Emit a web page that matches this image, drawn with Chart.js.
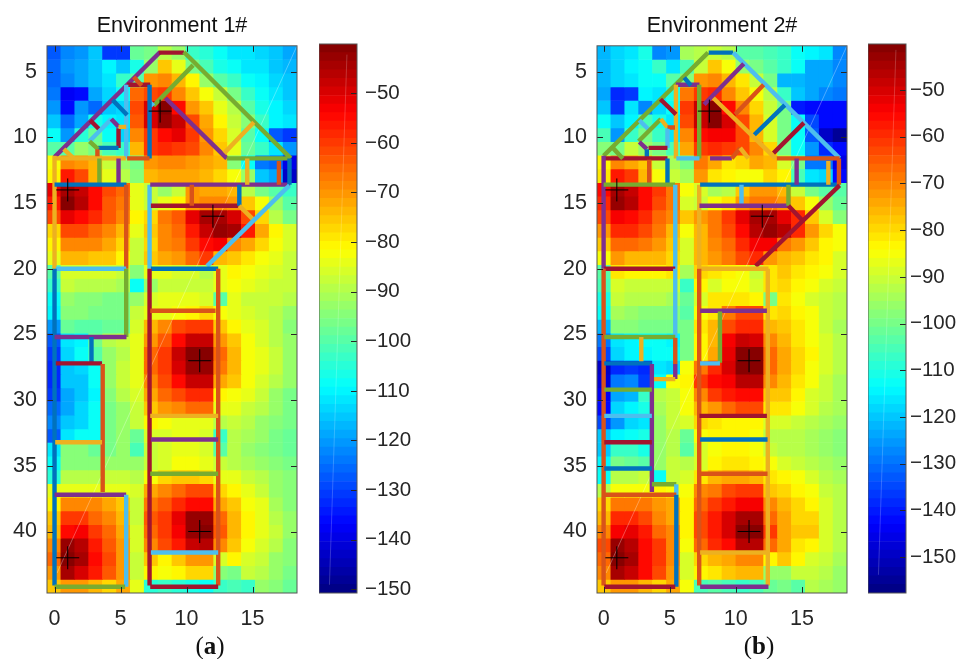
<!DOCTYPE html>
<html>
<head>
<meta charset="utf-8">
<script src="https://cdn.jsdelivr.net/npm/chart.js@4"></script>
<style>
  html, body { margin: 0; background: #fff; }
  canvas { position: absolute; top: 0; }
  .cap { position: absolute; top: 632px; font: 25px "Liberation Serif", serif; color: #111; transform: translateX(-50%); }
</style>
</head>
<body>
<canvas id="panelA" width="344" height="659" style="left:0"></canvas>
<canvas id="barA" width="101" height="659" style="left:319px"></canvas>
<canvas id="panelB" width="344" height="659" style="left:550px"></canvas>
<canvas id="barB" width="89" height="659" style="left:868px"></canvas>
<div class="cap" style="left:210px">(<b>a</b>)</div>
<div class="cap" style="left:759px">(<b>b</b>)</div>
<script>
// received power per cell, 40 rows x 18 columns
const gridA = [
  [-128,-122,-120,-115,-130,-130,-98,-97,-90,-93,-104,-105,-109,-111,-112,-114,-116,-118],
  [-126,-121,-118,-115,-110,-115,-106,-92,-76,-85,-97,-102,-106,-109,-111,-112,-115,-117],
  [-125,-122,-119,-115,-111,-104,-100,-70,-69,-73,-80,-92,-100,-104,-108,-110,-113,-116],
  [-124,-137,-136,-118,-114,-108,-65,-62,-60,-68,-75,-82,-88,-96,-104,-108,-112,-115],
  [-121,-136,-120,-125,-115,-113,-62,-50,-41,-55,-70,-76,-85,-90,-100,-106,-110,-113],
  [-115,-125,-118,-107,-110,-112,-63,-50,-42,-48,-62,-72,-80,-88,-94,-104,-110,-112],
  [-108,-120,-105,-98,-108,-113,-68,-60,-54,-52,-60,-70,-78,-86,-100,-108,-127,-130],
  [-100,-100,-92,-97,-102,-104,-74,-60,-58,-60,-62,-68,-75,-84,-98,-104,-112,-120],
  [-82,-68,-70,-74,-88,-92,-97,-70,-68,-68,-70,-72,-74,-95,-108,-124,-126,-140],
  [-80,-56,-62,-74,-85,-90,-94,-73,-72,-72,-72,-74,-78,-82,-92,-115,-118,-143],
  [-52,-44,-47,-55,-62,-66,-84,-88,-92,-88,-70,-72,-72,-74,-90,-97,-100,-103],
  [-57,-41,-46,-54,-63,-67,-84,-88,-84,-80,-70,-68,-68,-70,-76,-82,-92,-100],
  [-62,-52,-54,-58,-64,-68,-81,-78,-67,-63,-52,-44,-44,-50,-62,-78,-90,-96],
  [-78,-61,-61,-66,-69,-74,-84,-76,-69,-65,-57,-47,-42,-44,-56,-72,-80,-86],
  [-80,-68,-68,-68,-72,-78,-87,-78,-69,-67,-60,-54,-53,-68,-72,-78,-82,-86],
  [-84,-73,-74,-75,-76,-80,-87,-76,-72,-70,-65,-60,-74,-76,-79,-83,-85,-87],
  [-100,-86,-86,-86,-86,-88,-94,-84,-85,-86,-86,-90,-85,-80,-82,-84,-86,-87],
  [-104,-88,-90,-90,-90,-91,-109,-93,-88,-87,-87,-88,-85,-83,-85,-86,-87,-88],
  [-108,-93,-94,-94,-96,-96,-93,-86,-85,-84,-84,-86,-100,-85,-87,-88,-88,-90],
  [-110,-95,-95,-97,-97,-97,-88,-84,-84,-82,-80,-78,-82,-85,-86,-88,-90,-93],
  [-120,-98,-99,-99,-98,-98,-86,-74,-68,-62,-60,-60,-76,-80,-84,-86,-90,-95],
  [-128,-112,-110,-96,-90,-88,-84,-70,-64,-54,-48,-48,-70,-76,-82,-86,-89,-92],
  [-130,-113,-108,-99,-92,-90,-84,-66,-60,-48,-41,-41,-66,-74,-82,-85,-88,-92],
  [-132,-115,-114,-108,-92,-88,-84,-66,-60,-49,-42,-42,-67,-74,-82,-85,-88,-92],
  [-132,-116,-115,-109,-92,-88,-85,-68,-62,-54,-47,-47,-72,-76,-82,-86,-90,-93],
  [-130,-118,-116,-110,-94,-90,-86,-72,-66,-62,-58,-58,-80,-82,-85,-88,-92,-96],
  [-126,-118,-113,-109,-96,-92,-87,-75,-71,-68,-66,-66,-84,-84,-87,-90,-93,-97],
  [-122,-116,-113,-109,-96,-92,-88,-80,-82,-84,-84,-84,-90,-88,-90,-92,-95,-97],
  [-128,-112,-108,-108,-97,-93,-98,-86,-86,-85,-85,-86,-104,-90,-91,-93,-96,-98],
  [-112,-95,-95,-98,-97,-93,-101,-88,-86,-85,-85,-86,-100,-90,-92,-94,-96,-98],
  [-108,-95,-94,-95,-93,-92,-93,-88,-86,-82,-82,-84,-88,-89,-91,-92,-95,-97],
  [-105,-89,-90,-90,-88,-88,-90,-82,-78,-76,-76,-78,-84,-85,-88,-90,-93,-95],
  [-85,-84,-85,-84,-84,-84,-86,-72,-69,-65,-62,-62,-77,-80,-85,-88,-92,-95],
  [-80,-68,-68,-68,-72,-75,-88,-67,-63,-59,-54,-54,-72,-76,-82,-85,-91,-94],
  [-76,-60,-60,-65,-69,-74,-87,-64,-60,-52,-43,-43,-66,-74,-80,-85,-89,-93],
  [-74,-54,-53,-60,-66,-72,-86,-66,-60,-53,-42,-41,-64,-74,-81,-84,-88,-93],
  [-68,-42,-46,-56,-64,-70,-86,-68,-62,-56,-47,-46,-68,-75,-82,-86,-90,-94],
  [-66,-40,-44,-54,-62,-70,-87,-75,-80,-76,-70,-70,-86,-81,-86,-88,-92,-95],
  [-70,-44,-49,-56,-64,-70,-88,-80,-83,-80,-78,-78,-95,-97,-88,-90,-93,-96],
  [-76,-70,-70,-74,-78,-72,-85,-105,-104,-105,-107,-108,-104,-102,-103,-92,-95,-98]
];
const gridB = [
  [-122,-118,-116,-110,-128,-126,-95,-93,-90,-92,-104,-103,-105,-108,-112,-115,-117,-128],
  [-122,-118,-115,-112,-108,-116,-105,-90,-77,-86,-96,-100,-103,-108,-112,-124,-124,-128],
  [-122,-118,-116,-112,-112,-104,-98,-72,-70,-76,-82,-90,-100,-122,-122,-124,-124,-127],
  [-124,-138,-136,-114,-116,-110,-68,-62,-60,-70,-78,-86,-92,-108,-120,-124,-128,-130],
  [-120,-136,-116,-128,-118,-113,-62,-48,-41,-56,-70,-80,-90,-100,-140,-142,-143,-143],
  [-112,-120,-115,-106,-110,-116,-64,-48,-41,-50,-64,-76,-88,-100,-112,-135,-143,-143],
  [-106,-125,-108,-100,-108,-116,-70,-56,-54,-54,-64,-76,-88,-100,-113,-133,-150,-155],
  [-98,-100,-90,-96,-100,-106,-75,-62,-60,-62,-64,-70,-80,-100,-112,-125,-138,-143],
  [-84,-70,-74,-78,-90,-95,-100,-68,-74,-82,-80,-74,-76,-88,-100,-130,-130,-145],
  [-82,-58,-62,-76,-86,-90,-94,-72,-82,-84,-86,-86,-80,-84,-105,-116,-118,-143],
  [-56,-44,-48,-56,-62,-68,-86,-88,-94,-92,-78,-72,-72,-76,-90,-100,-104,-103],
  [-60,-42,-46,-56,-64,-68,-88,-90,-86,-82,-72,-68,-68,-72,-77,-86,-96,-102],
  [-64,-54,-56,-60,-66,-70,-78,-72,-68,-62,-52,-44,-44,-52,-60,-78,-88,-98],
  [-72,-60,-60,-64,-69,-76,-85,-76,-68,-64,-56,-46,-42,-46,-60,-72,-80,-86],
  [-78,-66,-66,-68,-72,-78,-88,-76,-70,-66,-60,-54,-53,-68,-72,-78,-84,-86],
  [-86,-72,-76,-76,-76,-80,-88,-76,-72,-68,-64,-60,-72,-76,-78,-82,-84,-88],
  [-104,-82,-84,-84,-84,-82,-95,-80,-82,-84,-86,-90,-82,-78,-82,-84,-86,-88],
  [-106,-88,-90,-90,-90,-90,-108,-84,-88,-86,-86,-88,-82,-80,-84,-86,-88,-90],
  [-110,-90,-92,-92,-92,-94,-102,-88,-82,-82,-82,-84,-100,-82,-86,-88,-90,-92],
  [-112,-94,-96,-98,-98,-98,-104,-86,-82,-68,-64,-64,-82,-80,-84,-86,-90,-92],
  [-122,-98,-98,-100,-100,-100,-100,-82,-76,-64,-60,-60,-76,-78,-82,-86,-90,-94],
  [-130,-116,-114,-112,-112,-114,-100,-84,-76,-54,-48,-50,-70,-76,-82,-86,-88,-92],
  [-134,-118,-114,-114,-113,-112,-100,-84,-74,-52,-41,-41,-66,-74,-80,-84,-88,-92],
  [-150,-138,-136,-138,-116,-118,-86,-68,-60,-50,-40,-40,-66,-74,-80,-86,-88,-92],
  [-148,-130,-128,-136,-112,-86,-84,-62,-56,-54,-46,-46,-70,-76,-82,-86,-90,-94],
  [-144,-124,-122,-108,-92,-90,-86,-70,-62,-58,-56,-56,-78,-78,-84,-88,-90,-94],
  [-142,-118,-114,-110,-94,-90,-86,-76,-72,-66,-64,-64,-82,-82,-86,-88,-92,-95],
  [-134,-126,-118,-116,-96,-90,-88,-80,-82,-84,-84,-84,-88,-88,-90,-92,-94,-96],
  [-120,-114,-112,-110,-96,-92,-102,-86,-84,-84,-84,-86,-92,-92,-92,-94,-96,-98],
  [-120,-108,-108,-110,-96,-92,-104,-88,-86,-84,-84,-86,-90,-92,-92,-94,-96,-98],
  [-114,-100,-102,-103,-96,-90,-92,-88,-84,-82,-82,-84,-86,-88,-90,-92,-94,-96],
  [-112,-92,-92,-90,-112,-90,-88,-82,-76,-74,-74,-76,-82,-84,-86,-88,-92,-94],
  [-92,-86,-86,-86,-84,-86,-86,-70,-68,-64,-62,-62,-78,-80,-84,-86,-90,-93],
  [-80,-68,-68,-68,-72,-74,-84,-66,-62,-58,-54,-54,-70,-76,-80,-84,-88,-92],
  [-76,-60,-60,-64,-70,-74,-84,-64,-58,-50,-44,-44,-66,-74,-80,-80,-88,-92],
  [-70,-54,-52,-58,-66,-70,-84,-64,-58,-50,-41,-41,-62,-74,-78,-78,-88,-92],
  [-64,-42,-46,-56,-62,-70,-86,-66,-60,-56,-46,-46,-66,-74,-82,-84,-88,-92],
  [-66,-40,-44,-56,-62,-70,-88,-80,-76,-74,-70,-70,-84,-78,-84,-88,-90,-94],
  [-70,-44,-48,-56,-64,-72,-88,-84,-82,-78,-76,-76,-96,-97,-90,-90,-92,-96],
  [-78,-72,-72,-76,-80,-74,-86,-106,-104,-106,-108,-106,-102,-100,-104,-92,-94,-96]
];

const cellColumns = ['c0','c1','c2','c3','c4','c5','c6','c7','c8','c9','c10','c11','c12','c13','c14','c15','c16','c17'];
const xTicks = [0, 5, 10, 15];
const yTicks = [5, 10, 15, 20, 25, 30, 35, 40];
const barTicks = [-50, -60, -70, -80, -90, -100, -110, -120, -130, -140, -150];
const transmitters = [[8, 8], [1, 14], [12, 16], [11, 27], [11, 40], [1, 42]];

// walls of the floor plan: x1, y1, x2, y2
const wallsA = [
  [0,11.5,8,3.5],[7.9,3.55,9.8,3.55],[9.8,3.5,17.9,11.6],[10.5,4.5,7.5,7.6],[7.2,7.3,7.5,7.6],
  [8.4,7,13.05,11.6],[5.5,6,7.25,6],[6,5.4,6.6,6.05],[5.43,6,5.43,11.6],[7.2,6,7.2,11.6],
  [5.5,11.6,7.2,11.6],[4.4,7.15,5.5,8.3],[2.7,8.7,3.5,9.5],[2.65,10.3,4.3,8.6],[4.3,8.6,4.85,9.2],
  [4.85,9.3,4.85,10.8],[4.85,9.2,5.43,9.2],[3.3,10.8,4.85,10.8],[2.65,10.3,3.3,10.9],[3.25,10.9,3.25,11.6],
  [0,11.6,5.4,11.6],[0.7,10.9,1.45,11.6],[0,11.4,0,20],[3.4,11.6,3.4,13.6],[4.85,11.6,4.85,13.6],
  [0,13.6,5.45,13.6],[5.43,13.6,5.43,20],[7.2,13.6,7.2,20],[7.25,13.6,17.85,13.6],[13.05,11.6,17.85,11.6],
  [12.85,11.2,15.1,8.85],[14.6,11.6,14.6,13.6],[17,11.8,17,13.6],[17.8,11.6,17.8,13.6],[7.3,15.2,13.95,15.2],
  [10.4,13.6,10.4,15.2],[14,13.6,14,15.2],[14,15.2,15.1,16.3],[17.8,13.65,11.55,19.8],[0.1,20,5.43,20],
  [7.3,20,12.4,20],[7.2,20,7.2,44.1],[12.4,20,12.4,44.1],[0,20,0,44.1],[5.43,20,5.43,25.2],
  [0,25.2,5.45,25.2],[2.8,25.2,2.8,27.15],[0.1,27.2,3.6,27.2],[3.65,27.25,3.65,37],[7.25,23.2,12.2,23.2],
  [7.25,31.2,12.4,31.2],[0.05,33.2,3.6,33.2],[7.3,33,12.4,33],[7.25,35.6,12.4,35.6],[0,37.2,5.43,37.2],
  [5.43,37.2,5.43,44.2],[0,44.2,5.35,44.2],[7.3,41.6,12.4,41.6],[7.25,44.2,12.4,44.2]
];
const wallGroupsA = 'prgglprolbobrlprybgoyyygpbolpgyyobrobyllbrobgpbrooyypgplglr';

const wallsB = [
  [0,11.4,7.9,3.55],[7.95,3.55,9.8,3.55],[9.8,3.55,17.85,11.6],[10.6,4.4,7.6,7.5],[8.3,7,13,11.6],
  [9.95,8.25,12.1,6],[11.4,9.8,13.7,7.55],[12.85,11.2,15.15,8.9],[5.47,6,7.25,6],[6.1,5.45,6.6,6.05],
  [5.47,6,5.47,11.6],[7.23,6,7.23,11.6],[5.5,11.6,7.25,11.6],[4.3,7.1,5.47,8.25],[2.7,8.7,3.5,9.5],
  [2.65,10.3,4.33,8.6],[4.33,8.6,4.83,9.25],[4.83,9.25,5.4,9.25],[4.83,9.35,4.83,10.8],[3.4,10.8,4.83,10.8],
  [2.7,10.35,3.27,10.9],[3.27,10.9,3.27,11.6],[0,11.6,4.83,11.6],[0.7,10.8,1.45,11.6],[0,11.4,0,20],
  [3.45,11.7,3.45,13.6],[4.83,11.6,4.83,13.6],[0,13.6,5.4,13.6],[5.42,13.6,5.42,20],[7.23,13.6,7.23,20],
  [7.3,13.6,17.85,13.6],[8.05,11.6,9.7,11.6],[9.7,11.6,10.33,10.8],[10.33,10.8,10.95,11.6],[13.1,11.6,17.85,11.6],
  [14.6,11.6,14.6,13.6],[17,11.8,17,13.6],[17.8,11.6,17.8,13.6],[10.43,13.6,10.43,15.2],[7.25,15.2,13.98,15.2],
  [13.98,13.6,13.98,15.2],[13.98,15.2,15.06,16.35],[17.85,13.65,11.5,19.8],[0.05,20,5.42,20],[7.25,20,12.47,20],
  [0,20,0,44.1],[5.42,20,5.42,25.2],[0.05,25.2,5.42,25.2],[2.85,25.2,2.85,27.15],[5.42,25.25,5.42,27.25],
  [5.42,27.25,5.42,28.4],[3.73,28.4,5.42,28.4],[0.05,27.2,3.65,27.2],[3.65,27.25,3.65,37],[0.05,29.2,3.65,29.2],
  [0.05,31.2,3.65,31.2],[0.05,33.2,3.65,33.2],[0.05,35.2,3.65,35.2],[3.65,36.4,5.5,36.4],[5.5,36.4,5.5,37.2],
  [0.05,37.2,5.5,37.2],[5.5,37.2,5.5,44.2],[0.05,44.2,5.42,44.2],[7.23,20,7.23,44.1],[12.42,20,12.42,44.1],
  [7.3,23.2,12.35,23.2],[8.8,23.25,8.8,27.15],[7.3,27.2,8.8,27.2],[7.25,31.2,12.35,31.2],[7.3,33,12.4,33],
  [7.3,35.6,12.4,35.6],[7.3,41.6,12.4,41.6],[7.3,44.2,12.47,44.2]
];
const wallGroupsB = 'gblpyobrpbyglrlgyolrpbrgpobglybpoyopyolpgrrryolgyopybpglrbglobroypglrboyp';

const wallColors = { b: '#0072BD', o: '#D95319', y: '#EDB120', p: '#7E2F8E', g: '#77AC30', l: '#4DBEEE', r: '#A2142F' };
const FONT = '"Liberation Sans", Arial, sans-serif';
const INK = '#262626';

// jet, 64 levels, same as the matlab default of that time
function jet(i) {
    const t = (i + 0.5) / 64;
    const ch = d => Math.round(255 * Math.max(0, Math.min(1, 1.5 - Math.abs(4 * t - d))));
    return 'rgb(' + ch(3) + ',' + ch(2) + ',' + ch(1) + ')';
}
function colorOf(v, cMin, cMax) {
    const i = Math.floor((v - cMin) / (cMax - cMin) * 64);
    return jet(Math.max(0, Math.min(63, i)));
}
const minusLabel = v => String(v).replace('-', '\u2212');

// inward ticks on all four sides, plus the box
const frame = {
    id: 'frame',
    afterDatasetsDraw(chart, args, opts) {
        const { ctx, chartArea: a } = chart;
        ctx.save();
        ctx.strokeStyle = INK;
        ctx.lineWidth = 1;
        ctx.beginPath();
        if (opts.xTicks) opts.xTicks.forEach(t => {
            const p = Math.round(chart.scales.x.getPixelForValue(t)) + 0.5;
            ctx.moveTo(p, a.top); ctx.lineTo(p, a.top + 6);
            ctx.moveTo(p, a.bottom); ctx.lineTo(p, a.bottom - 6);
        });
        opts.yTicks.forEach(t => {
            const p = Math.round(chart.scales.y.getPixelForValue(t)) + 0.5;
            if (opts.xTicks) { ctx.moveTo(a.left, p); ctx.lineTo(a.left + 6, p); }
            ctx.moveTo(a.right, p); ctx.lineTo(a.right - 6, p);
        });
        ctx.stroke();
        ctx.strokeStyle = '#555';
        ctx.strokeRect(a.left, a.top, a.right - a.left, a.bottom - a.top);
        ctx.restore();
    }
};

function fixedTicks(values) {
    return scale => { scale.ticks = values.map(value => ({ value })); };
}

function drawPanel(id, title, grid, walls, groups, cMin, cMax, xMin, xMax, glint) {
    const yMin = 3.03, yMax = 44.68;
    const rowH = (yMax - yMin) / grid.length;
    const datasets = [];

    transmitters.forEach(p => {
        datasets.push({
            type: 'scatter', xAxisID: 'x', yAxisID: 'y', order: -1000,
            data: [{ x: p[0], y: p[1] }],
            showLine: false, pointStyle: 'cross', pointRadius: 11.5,
            pointBorderColor: '#000', pointBorderWidth: 1
        });
    });
    walls.forEach((w, i) => {
        datasets.push({
            type: 'scatter', xAxisID: 'x', yAxisID: 'y', order: -i,
            data: [{ x: w[0], y: w[1] }, { x: w[2], y: w[3] }],
            showLine: true, pointRadius: 0, borderWidth: 4.4, borderCapStyle: 'butt',
            borderColor: wallColors[groups[i]]
        });
    });
    datasets.push({
        type: 'scatter', xAxisID: 'x', yAxisID: 'y', order: 1,
        data: glint, showLine: true, pointRadius: 0, borderWidth: 1,
        borderColor: 'rgba(255,255,255,0.3)'
    });
    grid.forEach((row, r) => {
        datasets.push({
            type: 'bar', xAxisID: 'xc', yAxisID: 'y', order: 10,
            data: row.map(() => [yMin + r * rowH, yMin + (r + 1) * rowH]),
            backgroundColor: row.map(v => colorOf(v, cMin, cMax)),
            borderWidth: 0, barPercentage: 1, categoryPercentage: 1, grouped: false
        });
    });

    new Chart(document.getElementById(id), {
        type: 'bar',
        data: { labels: cellColumns, datasets },
        plugins: [frame],
        options: {
            responsive: false,
            animation: false,
            layout: { autoPadding: false, padding: { right: 47 } },
            plugins: {
                legend: { display: false },
                tooltip: { enabled: false },
                title: {
                    display: true, text: title, color: '#111', fullSize: false,
                    font: { family: FONT, size: 21.5, weight: 'normal', lineHeight: 1.2 },
                    padding: { top: 13, bottom: 7 }
                },
                frame: { xTicks, yTicks }
            },
            scales: {
                xc: { type: 'category', display: false, offset: true },
                x: {
                    type: 'linear', position: 'bottom', min: xMin, max: xMax, offset: false,
                    afterBuildTicks: fixedTicks(xTicks),
                    afterFit: s => { s.height = 66; },
                    grid: { display: false, drawTicks: false, tickLength: 0 }, border: { display: false },
                    ticks: { color: INK, font: { family: FONT, size: 21.5 }, padding: 13, maxRotation: 0, autoSkip: false }
                },
                y: {
                    type: 'linear', position: 'left', reverse: true, min: yMin, max: yMax,
                    afterBuildTicks: fixedTicks(yTicks),
                    afterFit: s => { s.width = 47; },
                    grid: { display: false, drawTicks: false, tickLength: 0 }, border: { display: false },
                    ticks: { color: INK, font: { family: FONT, size: 21.5 }, padding: 10, autoSkip: false }
                }
            }
        }
    });
}

function drawColorbar(id, cMin, cMax, glint, labelGap) {
    const step = (cMax - cMin) / 64;
    const datasets = [{
        type: 'scatter', xAxisID: 'xl', yAxisID: 'y', order: 1,
        data: glint, showLine: true, pointRadius: 0, borderWidth: 1,
        borderColor: 'rgba(255,255,255,0.2)'
    }];
    for (let i = 0; i < 64; i++) {
        datasets.push({
            type: 'bar', xAxisID: 'x', yAxisID: 'y', order: 10,
            data: [[cMin + i * step, cMin + (i + 1) * step]],
            backgroundColor: jet(i),
            borderWidth: 0, barPercentage: 1, categoryPercentage: 1, grouped: false
        });
    }
    new Chart(document.getElementById(id), {
        type: 'bar',
        data: { labels: ['dBm'], datasets },
        plugins: [frame],
        options: {
            responsive: false,
            animation: false,
            layout: { autoPadding: false, padding: { top: 44, bottom: 66 } },
            plugins: {
                legend: { display: false },
                tooltip: { enabled: false },
                frame: { yTicks: barTicks }
            },
            scales: {
                x: { type: 'category', display: false, offset: true },
                xl: { type: 'linear', display: false, min: 0, max: 1 },
                y: {
                    type: 'linear', position: 'right', min: cMin, max: cMax,
                    afterBuildTicks: fixedTicks(barTicks),
                    afterFit: s => { s.width = id === 'barA' ? 63 : 51; },
                    grid: { display: false, drawTicks: false, tickLength: 0 }, border: { display: false },
                    ticks: { color: INK, font: { family: FONT, size: 20.5 }, padding: labelGap, autoSkip: false, callback: minusLabel }
                }
            }
        }
    });
}

drawPanel('panelA', 'Environment 1#', gridA, wallsA, wallGroupsA, -150.75, -40.06, -0.57, 18.37,
    [{ x: 0.19, y: 43.16 }, { x: 18.37, y: 3.03 }]);
drawPanel('panelB', 'Environment 2#', gridB, wallsB, wallGroupsB, -157.7, -40.14, -0.5, 18.41,
    [{ x: 0.19, y: 43.16 }, { x: 18.41, y: 3.03 }]);
drawColorbar('barA', -150.75, -40.06, [{ x: 0.97, y: -42.2 }, { x: 0.05, y: -149.1 }], 8);
drawColorbar('barB', -157.7, -40.14, [{ x: 0.97, y: -41.4 }, { x: 0.05, y: -153.8 }], 4);
</script>
</body>
</html>
